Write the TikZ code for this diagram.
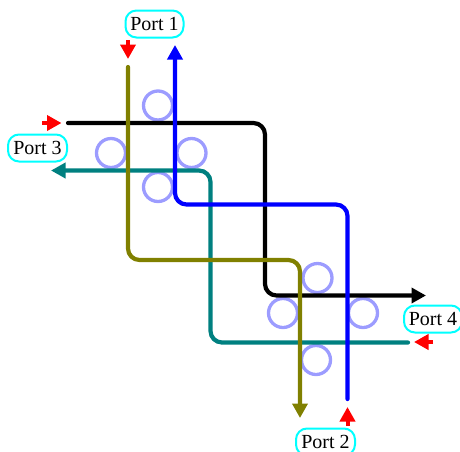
\documentclass[tikz,border=0pt]{standalone}
\usepackage{fontspec}
\setmainfont{Liberation Serif}
\usetikzlibrary{arrows.meta}
\definecolor{ringblue}{HTML}{9C9CFF}
\definecolor{olivepath}{HTML}{808000}
\definecolor{tealpath}{HTML}{008080}
\definecolor{portcyan}{HTML}{00FFFF}
\definecolor{flowred}{HTML}{FF0000}
\definecolor{pathblue}{HTML}{0000FF}
\tikzset{
  x=1pt,y=-1pt,
  route/.style={line width=4.2pt,rounded corners=11.5pt,line cap=round,-{Triangle[length=14.5pt,width=15pt]}},
  ring/.style={circle,draw=ringblue,line width=3.3pt,minimum size=29pt,inner sep=0pt},
  portlabel/.style={draw=portcyan,line width=2pt,rounded corners=11pt,fill=white,minimum height=27pt,inner sep=0pt,font=\fontsize{20}{22}\selectfont},
  inflow/.style={draw=flowred,line width=4pt,-{Triangle[length=14.5pt,width=15pt]}}
}
\begin{document}
\begin{tikzpicture}
\useasboundingbox (0,0) rectangle (460,451);
\clip (0,0) rectangle (460,451);
% rings
\node[ring] (r1) at (158,105.5) {};
\node[ring] (r2) at (111,153) {};
\node[ring] (r3) at (191.5,153) {};
\node[ring] (r4) at (158,187) {};
\node[ring] (r5) at (317.5,278) {};
\node[ring] (r6) at (283,313) {};
\node[ring] (r7) at (363,313) {};
\node[ring] (r8) at (316,360) {};
% port labels
\node[portlabel,minimum width=58pt] (p1) at (154.5,24) {Port 1};
\node[portlabel,minimum width=59pt] (p3) at (37.5,148) {Port 3};
\node[portlabel,minimum width=58pt] (p4) at (433,319) {Port 4};
\node[portlabel,minimum width=59pt] (p2) at (325.5,442) {Port 2};
% route ends
\coordinate (blackA) at (68,123);
\coordinate (blackB) at (265,123);
\coordinate (blackC) at (265,295.5);
\coordinate (blackD) at (426,295.5);
\coordinate (oliveA) at (128,67);
\coordinate (oliveB) at (128,260);
\coordinate (oliveC) at (300,260);
\coordinate (oliveD) at (300,418);
\coordinate (blueA) at (347.5,399);
\coordinate (blueB) at (347.5,204.5);
\coordinate (blueC) at (175,204.5);
\coordinate (blueD) at (175,45);
\coordinate (tealA) at (408,342.5);
\coordinate (tealB) at (210.5,342.5);
\coordinate (tealC) at (210.5,170.5);
\coordinate (tealD) at (51,170.5);
\draw[route,black] (blackA) -- (blackB) -- (blackC) -- (blackD);
\draw[route,tealpath] (tealA) -- (tealB) -- (tealC) -- (tealD);
\draw[route,pathblue] (blueA) -- (blueB) -- (blueC) -- (blueD);
\draw[route,olivepath] (oliveA) -- (oliveB) -- (oliveC) -- (oliveD);
% inflow arrows
\coordinate (i1a) at (128,40); \coordinate (i1b) at (128,59);
\coordinate (i3a) at (42,123); \coordinate (i3b) at (61.5,123);
\coordinate (i4a) at (433,342); \coordinate (i4b) at (414,342);
\coordinate (i2a) at (347.5,426); \coordinate (i2b) at (347.5,407);
\draw[inflow] (i1a) -- (i1b);
\draw[inflow] (i3a) -- (i3b);
\draw[inflow] (i4a) -- (i4b);
\draw[inflow] (i2a) -- (i2b);
\end{tikzpicture}
\end{document}
